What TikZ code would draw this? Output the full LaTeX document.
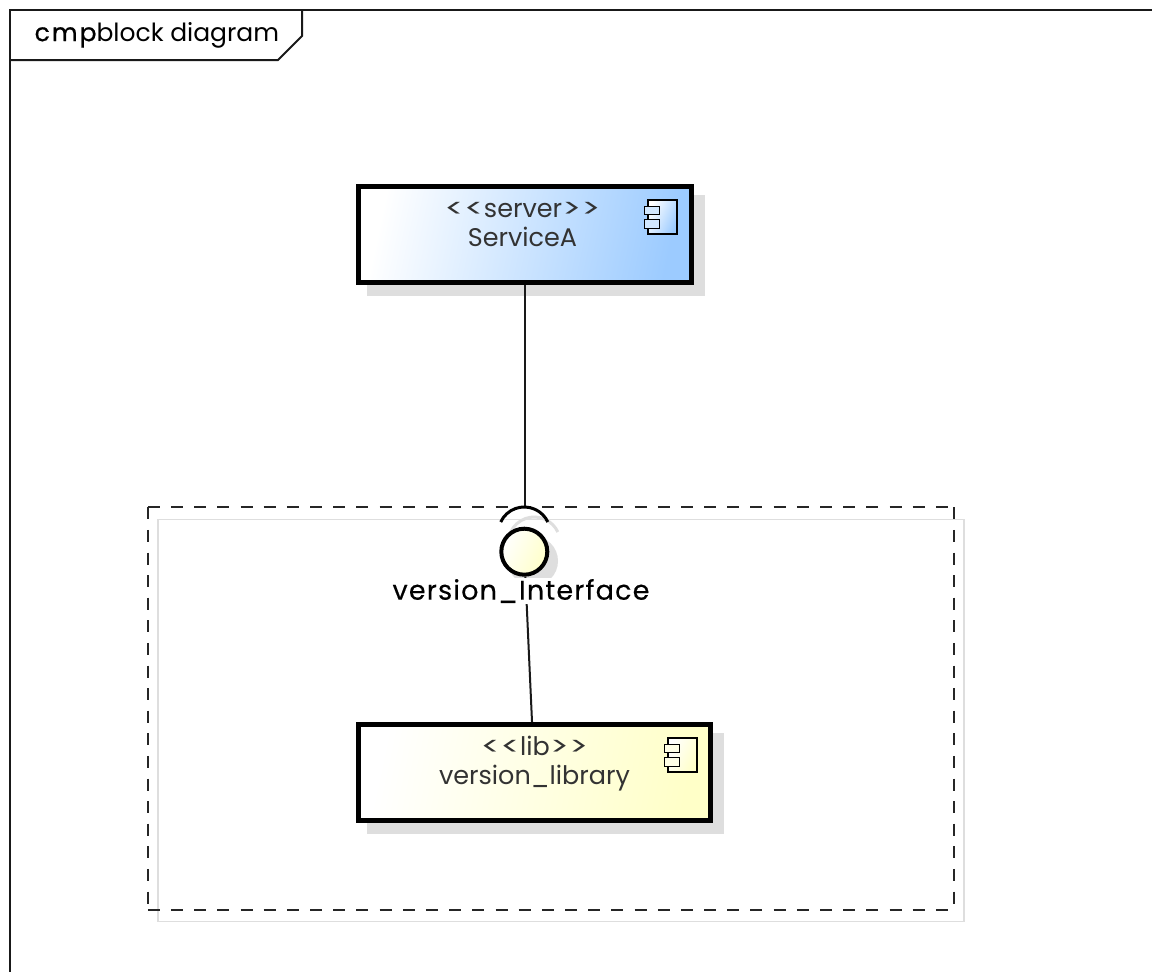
\documentclass[tikz,border=0pt]{standalone}
\usepackage{fontspec}
\setmainfont{Poppins}
\usetikzlibrary{positioning,shapes,shadows}

\definecolor{shadowgray}{HTML}{DEDEDE}
\definecolor{serverblue}{HTML}{9CCBFF}
\definecolor{libyellow}{HTML}{FFFFC8}
\definecolor{textgray}{HTML}{333333}

\newcommand{\stereoopen}{\scalebox{1.4}[1]{<{}<}}
\newcommand{\stereoclose}{\scalebox{1.4}[1]{>{}>}}

\tikzset{
    x=1pt, y=-1pt,
    compbox/.style={rectangle,draw=black,line width=5pt,inner sep=0pt,left color=white,right color=#1,shading angle=78,
        drop shadow={shadow xshift=11pt,shadow yshift=-11pt,fill=shadowgray,draw=shadowgray,opacity=1}},
    comptext/.style={align=center,text=textgray,font=\fontsize{25.5}{28.5}\selectfont,inner sep=0pt},
    iconbody/.style={rectangle,draw=black,line width=1.2pt,inner sep=0pt,left color=white,right color=#1,shading angle=65,minimum width=29pt,minimum height=34pt},
    iconpin/.style={rectangle,draw=black,line width=1.2pt,inner sep=0pt,fill=#1!45,minimum width=15pt,minimum height=8.5pt},
    wire/.style={draw=black!90,line width=2.4pt},
}

\begin{document}
\begin{tikzpicture}
\useasboundingbox (0,0) rectangle (1152,972);

% frame with its tab
\draw[line width=2pt,black!90] (9.5,972) -- (9.5,9.5) -- (1152,9.5);
\draw[line width=2pt,black!90] (9.5,60) -- (278,60) -- (302,36) -- (302,9.5);
\node[anchor=west,inner sep=0pt,text=black,font=\fontsize{25}{28}\selectfont] (frametitle) at (34.5,35) {{\addfontfeature{FakeBold=0.8,LetterSpace=8}cmp}block diagram};

% package outline and its shadow
\node[rectangle,draw=shadowgray,line width=1.5pt,minimum width=806pt,minimum height=402pt,inner sep=0pt] (packshadow) at (561,720.5) {};
\node[rectangle,minimum width=806pt,minimum height=402pt,inner sep=0pt] (pack) at (551,708.5) {};
\draw[line width=2pt,black!85,dash pattern=on 12pt off 11.18pt] (pack.north west) -- (pack.north east);
\draw[line width=2pt,black!85,dash pattern=on 12pt off 11.18pt] (pack.south west) -- (pack.south east);
\draw[line width=2pt,black!85,dash pattern=on 12pt off 10.6pt] (pack.north west) -- (pack.south west);
\draw[line width=2pt,black!85,dash pattern=on 12pt off 10.6pt] (pack.north east) -- (pack.south east);

% interface shadow
\draw[line width=3pt,shadowgray] (510.7,532) arc[start angle=-155,end angle=-25,radius=26];
\node[circle,fill=shadowgray,draw=shadowgray,line width=4pt,minimum size=46pt,inner sep=0pt] (ifaceshadow) at (533,561) {};

% components
\node[compbox=serverblue,minimum width=333pt,minimum height=96.5pt] (servicea) at (524.8,234.7) {};
\node[compbox=libyellow,minimum width=352pt,minimum height=96pt] (versionlib) at (534.3,772.5) {};
\node[comptext] (servicealabel) at (522.5,224.5) {\stereoopen server\stereoclose\\ServiceA};
\node[comptext] (versionliblabel) at (534.5,763.5) {\stereoopen lib\stereoclose\\version\_library};

% component icons
\foreach \name/\x/\y/\color in {servera/662.5/217/serverblue, libb/682.5/755/libyellow} {
    \node[iconbody=\color] (\name body) at (\x,\y) {};
    \node[iconpin=\color] (\name pina) at ([xshift=4.5pt,yshift=6.5pt]\name body.west) {};
    \node[iconpin=\color] (\name pinb) at ([xshift=4.5pt,yshift=-7pt]\name body.west) {};
}

% interface and its connectors
\node[circle,draw=black,line width=4pt,minimum size=46pt,inner sep=0pt,left color=white,right color=libyellow,shading angle=65] (iface) at (524.3,551.7) {};
\coordinate (sockettop) at (524.8,507);
\draw[wire] (servicea.south) -- (sockettop);
\draw[line width=3pt,black] (500.7,522) arc[start angle=-155,end angle=-25,radius=26];
\draw[wire,line width=2pt] (iface) -- (versionlib);
\node[fill=white,inner sep=1pt,text=black,font=\fontsize{27}{30}\selectfont\addfontfeature{LetterSpace=4.4,FakeBold=0.3}] (ifacelabel) at (521,591) {version\_Interface};
\end{tikzpicture}
\end{document}
